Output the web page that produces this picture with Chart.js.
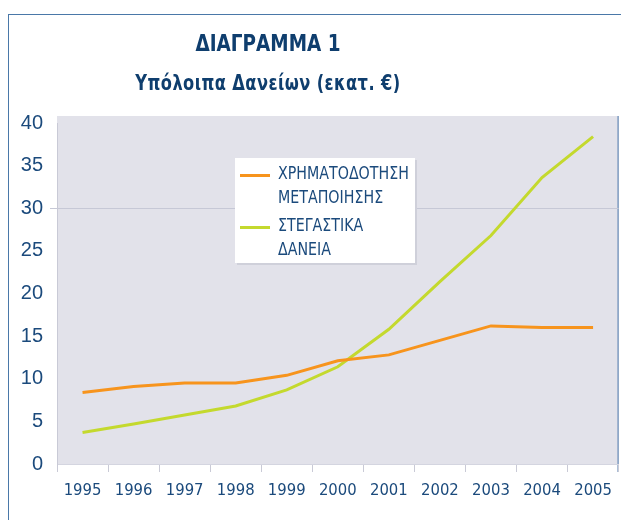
<!DOCTYPE html>
<html>
<head>
<meta charset="utf-8">
<script src="https://cdn.jsdelivr.net/npm/chart.js@4/dist/chart.umd.min.js"></script>
<style>
  html, body { margin:0; padding:0; background:#fff; }
  #wrap { position:relative; width:621px; height:520px; overflow:hidden; }
  #frame { position:absolute; left:8px; top:14px; width:640px; height:520px; border-left:1.5px solid #4a78a8; border-top:1.5px solid #4a78a8; box-sizing:border-box; }
  #t1 { position:absolute; left:168px; width:200px; top:30px; text-align:center; font:bold 23px "Liberation Sans Narrow","DejaVu Sans Condensed",sans-serif; color:#0f3e6e; transform:scaleX(0.89); transform-origin:center; }
  #t2 { position:absolute; left:88px; width:360px; top:70px; text-align:center; font:bold 21.5px "Liberation Sans Narrow","DejaVu Sans Condensed",sans-serif; color:#0f3e6e; letter-spacing:0.5px; transform:scaleX(0.84); transform-origin:center; }
  canvas { position:absolute; left:0; top:0; }
  #legend { position:absolute; left:235px; top:158px; width:180px; height:105px; background:#fff; box-shadow:2px 2px 0 #cfd0da; font:17px "Liberation Sans Narrow","DejaVu Sans Condensed",sans-serif; color:#1b4a7c; }
  .sw { position:absolute; left:5px; width:30px; height:3px; }
  .txt { position:absolute; left:43px; line-height:24px; white-space:nowrap; transform:scaleX(0.93); transform-origin:left center; }
</style>
</head>
<body>
<div id="wrap">
  <canvas id="c" width="621" height="520"></canvas>
  <div id="frame"></div>
  <div id="t1">ΔΙΑΓΡΑΜΜΑ 1</div>
  <div id="t2">Υπόλοιπα Δανείων (εκατ. €)</div>
  <div id="legend"></div>
</div>
<script>
const years = ['1995','1996','1997','1998','1999','2000','2001','2002','2003','2004','2005'];
const manufacturing = [8.4, 9.1, 9.5, 9.5, 10.4, 12.1, 12.8, 14.5, 16.2, 16.0, 16.0];
const housing = [3.7, 4.7, 5.75, 6.8, 8.7, 11.4, 15.8, 21.4, 26.8, 33.6, 38.4];
const seriesLabels = [['ΧΡΗΜΑΤΟΔΟΤΗΣΗ','ΜΕΤΑΠΟΙΗΣΗΣ'], ['ΣΤΕΓΑΣΤΙΚΑ','ΔΑΝΕΙΑ']];
const seriesColors = ['#f7941d', '#c4d92e'];
const yTicks = [0, 5, 10, 15, 20, 25, 30, 35, 40];

const bgPlugin = {
  id: 'bg',
  beforeDraw(chart) {
    const a = chart.chartArea, ctx = chart.ctx;
    ctx.save();
    ctx.fillStyle = '#e2e2ea';
    ctx.fillRect(a.left, a.top - 7, a.right - a.left, a.bottom - a.top + 7);
    ctx.strokeStyle = '#7f9cc0';
    ctx.lineWidth = 1.5;
    ctx.beginPath();
    ctx.moveTo(a.right - 0.5, a.top - 7);
    ctx.lineTo(a.right - 0.5, a.bottom + 8);
    ctx.stroke();
    ctx.restore();
  }
};

const chart = new Chart(document.getElementById('c'), {
  type: 'line',
  data: {
    labels: years,
    datasets: [
      { label: seriesLabels[0].join(' '), data: manufacturing, borderColor: seriesColors[0], borderWidth: 3, pointRadius: 0, tension: 0 },
      { label: seriesLabels[1].join(' '), data: housing, borderColor: seriesColors[1], borderWidth: 3, pointRadius: 0, tension: 0 }
    ]
  },
  options: {
    responsive: false,
    animation: false,
    layout: { padding: { left: 0, top: 123, right: 1, bottom: 0 } },
    plugins: { legend: { display: false }, tooltip: { enabled: false } },
    scales: {
      x: {
        offset: true,
        grid: { offset: true, drawOnChartArea: false, drawTicks: true, tickLength: 8, color: '#c9cad6' },
        border: { color: '#d4d5e0', width: 1 },
        ticks: { color: '#1b4a7c', font: { family: '"Liberation Sans Narrow","DejaVu Sans Condensed",sans-serif', size: 16.5 }, padding: 9, maxRotation: 0, autoSkip: false },
        afterFit(s) { s.height = 56; }
      },
      y: {
        min: 0, max: 40,
        afterBuildTicks(s) { s.ticks = yTicks.map(v => ({ value: v })); },
        grid: { color: (c) => c.tick && c.tick.value === 30 ? '#c6c8d6' : 'rgba(0,0,0,0)', tickLength: 7 },
        border: { color: '#c9cad6', width: 1 },
        ticks: { color: '#1b4a7c', font: { family: '"Liberation Sans","Arial",sans-serif', size: 20 }, padding: 7 },
        afterFit(s) { s.width = 57; }
      }
    }
  },
  plugins: [bgPlugin]
});

const leg = document.getElementById('legend');
const tops = [3, 55];
const swTops = [16, 68];
seriesLabels.forEach((lines, i) => {
  const sw = document.createElement('div');
  sw.className = 'sw';
  sw.style.top = swTops[i] + 'px';
  sw.style.background = seriesColors[i];
  leg.appendChild(sw);
  const t = document.createElement('div');
  t.className = 'txt';
  t.style.top = tops[i] + 'px';
  t.innerHTML = lines.join('<br>');
  leg.appendChild(t);
});
</script>
</body>
</html>
